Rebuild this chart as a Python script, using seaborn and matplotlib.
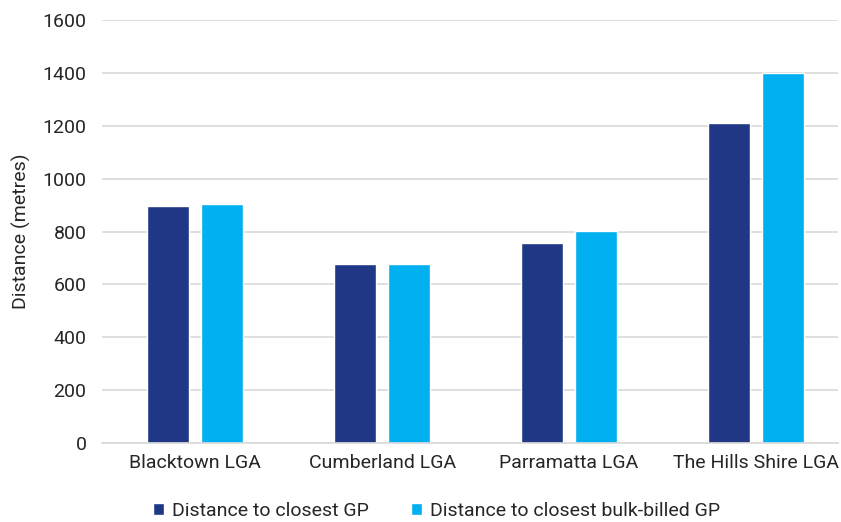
import numpy as np
import pandas as pd
import matplotlib
matplotlib.use("Agg")
import matplotlib.pyplot as plt
import seaborn as sns

CATEGORIES = ["Blacktown LGA", "Cumberland LGA", "Parramatta LGA", "The Hills Shire LGA"]
SERIES = ["Distance to closest GP", "Distance to closest bulk-billed GP"]
CLOSEST_GP = [896, 678, 758, 1211]
CLOSEST_BULK = [904, 678, 802, 1400]
YTICKS = [0, 200, 400, 600, 800, 1000, 1200, 1400, 1600]
COLORS = ["#1f3784", "#00b0f0"]

df = pd.DataFrame({
    "LGA": CATEGORIES * 2,
    "series": [SERIES[0]] * 4 + [SERIES[1]] * 4,
    "value": CLOSEST_GP + CLOSEST_BULK,
})

sns.set_theme(style="white")
plt.rcParams["font.family"] = ["Roboto", "DejaVu Sans"]

fig, ax = plt.subplots(figsize=(8.41, 5.22), dpi=100)
fig.subplots_adjust(left=0.121, right=0.996, bottom=0.151, top=0.962)

sns.barplot(data=df, x="LGA", y="value", hue="series", palette=COLORS,
            width=0.58, gap=0.23, saturation=1, ax=ax, errorbar=None)

ax.set_ylim(0, 1600)
ax.set_yticks(YTICKS)
ax.set_xlim(-0.5, 3.437)
ax.yaxis.grid(True, color="#d9d9d9", linewidth=1.2)
ax.set_axisbelow(True)
for s in ["top", "right", "left"]:
    ax.spines[s].set_visible(False)
ax.spines["bottom"].set_color("#d9d9d9")
ax.spines["bottom"].set_linewidth(1.2)
ax.tick_params(axis="y", labelsize=14, colors="#262626", length=0, pad=11)
ax.tick_params(axis="x", labelsize=14, colors="#262626", length=0, pad=8)
ax.set_xlabel("")
ax.set_ylabel("Distance (metres)", fontsize=14, color="#262626", labelpad=8)

ax.legend(loc="center", bbox_to_anchor=(0.455, -0.16), ncol=2,
          frameon=False, fontsize=14, handlelength=0.55, handleheight=0.55,
          handletextpad=0.4, columnspacing=2.2, labelcolor="#262626")

fig.savefig("out.png", dpi=100)
